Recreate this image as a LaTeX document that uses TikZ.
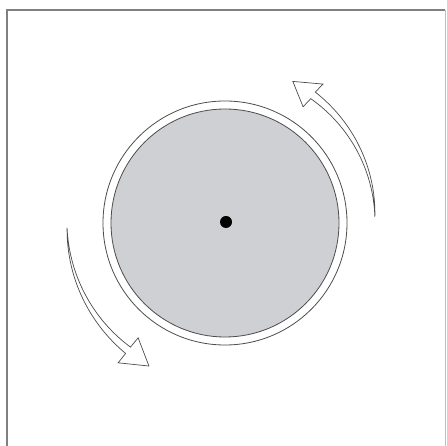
\documentclass[tikz,border=0pt]{standalone}
\begin{document}
\begin{tikzpicture}[x=1pt,y=1pt,
  frameline/.style={draw=black!50, line width=1.6pt},
  ringline/.style={draw=black!70, line width=0.8pt},
  arrowshape/.style={draw=black!70, fill=white, line width=0.7pt, line join=miter}]
\useasboundingbox (0,0) rectangle (446,446);
\clip (0,0) rectangle (446,446);
\fill[white] (0,0) rectangle (446,446);
% frame
\draw[frameline] (7,-5) -- (7,436) -- (445,436);
\draw[draw=black!25, line width=0.8pt] (445,436) -- (445,-5);
\coordinate (c) at (225,223);
% discs
\draw[ringline, fill=white] (c) circle (122);
\draw[ringline, fill={rgb,255:red,206;green,208;blue,211}] (c) circle (114);
\fill[black] (226,224) circle (6);
% upper-right arrow
\begin{scope}[shift={(c)}]
\draw[arrowshape]
  plot[domain=2.3:55.4, samples=40, smooth] (\x:{150+5*(\x-2.3)/53.1+4*(\x-2.3)/53.1})
  -- (54.8:170) -- (64.4:157) -- (56.1:140)
  -- plot[domain=55.4:2.3, samples=40, smooth] (\x:{150+5*(\x-2.3)/53.1-4*(\x-2.3)/53.1})
  -- cycle;
% lower-left arrow
\draw[arrowshape]
  plot[domain=181.8:232.7, samples=40, smooth] (\x:{158+2*(\x-181.8)/50.9+4*(\x-181.8)/50.9})
  -- (232.6:176) -- (242:162) -- (232.9:144)
  -- plot[domain=232.7:181.8, samples=40, smooth] (\x:{158+2*(\x-181.8)/50.9-4*(\x-181.8)/50.9})
  -- cycle;
\end{scope}
\end{tikzpicture}
\end{document}
